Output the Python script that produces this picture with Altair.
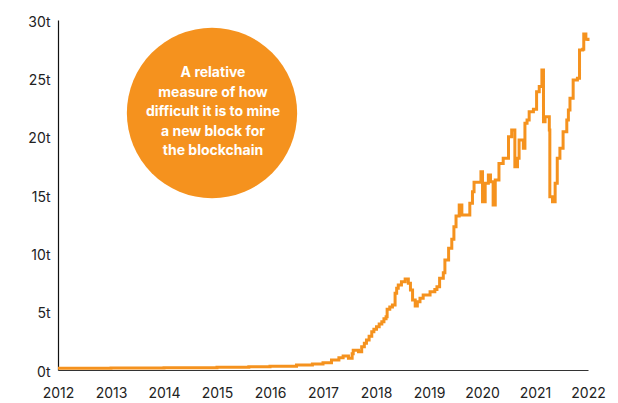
import altair as alt
import pandas as pd

years = [2012.0, 2013.0, 2014.0, 2015.0, 2015.6, 2016.0, 2016.5, 2016.8, 2017.0, 2017.16, 2017.3,
         2017.38, 2017.48, 2017.55, 2017.57, 2017.67, 2017.73, 2017.78, 2017.82, 2017.87, 2017.92,
         2017.96, 2018.01, 2018.06, 2018.11, 2018.15, 2018.19, 2018.21, 2018.26, 2018.31, 2018.36,
         2018.39, 2018.42, 2018.48, 2018.55, 2018.61, 2018.65, 2018.69, 2018.74, 2018.78, 2018.83,
         2018.89, 2019.02, 2019.11, 2019.15, 2019.2, 2019.27, 2019.30, 2019.37, 2019.43, 2019.47,
         2019.51, 2019.57, 2019.62, 2019.77, 2019.82, 2019.85, 2019.98, 2020.01, 2020.06, 2020.12,
         2020.16, 2020.21, 2020.25, 2020.32, 2020.40, 2020.50, 2020.56, 2020.62, 2020.67, 2020.70,
         2020.78, 2020.81, 2020.85, 2020.89, 2020.97, 2021.03, 2021.08, 2021.13, 2021.16, 2021.19,
         2021.27, 2021.28, 2021.33, 2021.38, 2021.42, 2021.47, 2021.53, 2021.60, 2021.63, 2021.66,
         2021.72, 2021.80, 2021.84, 2021.90, 2021.92, 2021.96, 2022.0]
difficulty = [0.15, 0.17, 0.2, 0.24, 0.28, 0.33, 0.42, 0.52, 0.62, 0.86, 1.05,
              1.2, 1.0, 1.4, 1.7, 1.57, 2.0, 2.3, 2.57, 2.9, 3.28,
              3.5, 3.71, 3.95, 4.14, 4.4, 4.57, 5.2, 5.4, 5.57, 6.57,
              7.0, 7.29, 7.57, 7.8, 7.43, 6.86, 6.0, 5.49, 5.86, 6.14,
              6.43, 6.71, 6.91, 7.14, 7.86, 8.34, 9.43, 10.43, 11.2, 12.28,
              13.2, 14.14, 13.28, 14.29, 15.28, 16.09, 17.0, 14.43, 16.0, 16.71,
              16.14, 14.14, 16.29, 17.71, 18.14, 20.0, 20.57, 17.43, 18.14, 19.71,
              19.0, 21.14, 21.43, 22.14, 22.34, 23.86, 24.29, 25.71, 21.28, 21.71,
              20.57, 14.86, 14.43, 16.0, 18.14, 19.0, 20.43, 21.43, 22.29, 23.29,
              24.86, 25.0, 27.43, 27.49, 28.8, 28.34, 28.2]

x_ticks = list(range(2012, 2023))
y_ticks = [0, 5, 10, 15, 20, 25, 30]
note_lines = ["A relative", "measure of how", "difficult it is to mine",
              "a new block for", "the blockchain"]

ORANGE = "#F5921E"
FONT = "Inter"

df = pd.DataFrame({"year": years, "difficulty": difficulty})

line = alt.Chart(df).mark_line(
    color=ORANGE, strokeWidth=3, interpolate="step-after"
).encode(
    x=alt.X("year:Q", scale=alt.Scale(domain=[2012, 2022], nice=False),
            axis=alt.Axis(values=x_ticks, format="d", title=None, grid=False,
                          ticks=False, domainColor="#333333", domainWidth=1.2,
                          labelFont=FONT, labelFontSize=14, labelColor="#222222",
                          labelPadding=16, labelFlush=False, labelOverlap=False)),
    y=alt.Y("difficulty:Q", scale=alt.Scale(domain=[0, 30], nice=False),
            axis=alt.Axis(values=y_ticks, labelExpr="datum.value + 't'", title=None,
                          grid=False, ticks=False, domainColor="#111111", domainWidth=1.2,
                          labelFont=FONT, labelFontSize=14, labelColor="#222222",
                          labelPadding=8, labelOffset=2, labelFlush=False)),
)

circle = alt.Chart(pd.DataFrame({"a": [0]})).mark_point(
    filled=True, shape="circle", color=ORANGE, opacity=1, strokeWidth=0
).encode(
    x=alt.value(154), y=alt.value(93), size=alt.value(29000)
)

note = alt.Chart(pd.DataFrame({"t": [note_lines]})).mark_text(
    color="white", font=FONT, fontSize=14, fontWeight="bold",
    lineHeight=19.6, align="center", baseline="middle"
).encode(
    x=alt.value(155), y=alt.value(53), text="t"
)

chart = alt.layer(line, circle, note).properties(
    width=530, height=350,
    autosize=alt.AutoSizeParams(type="none"),
    padding={"left": 50, "top": 12, "right": 20, "bottom": 30},
).configure_view(stroke=None)

chart.save("out.html", embed_options={"renderer": "svg", "actions": False})
